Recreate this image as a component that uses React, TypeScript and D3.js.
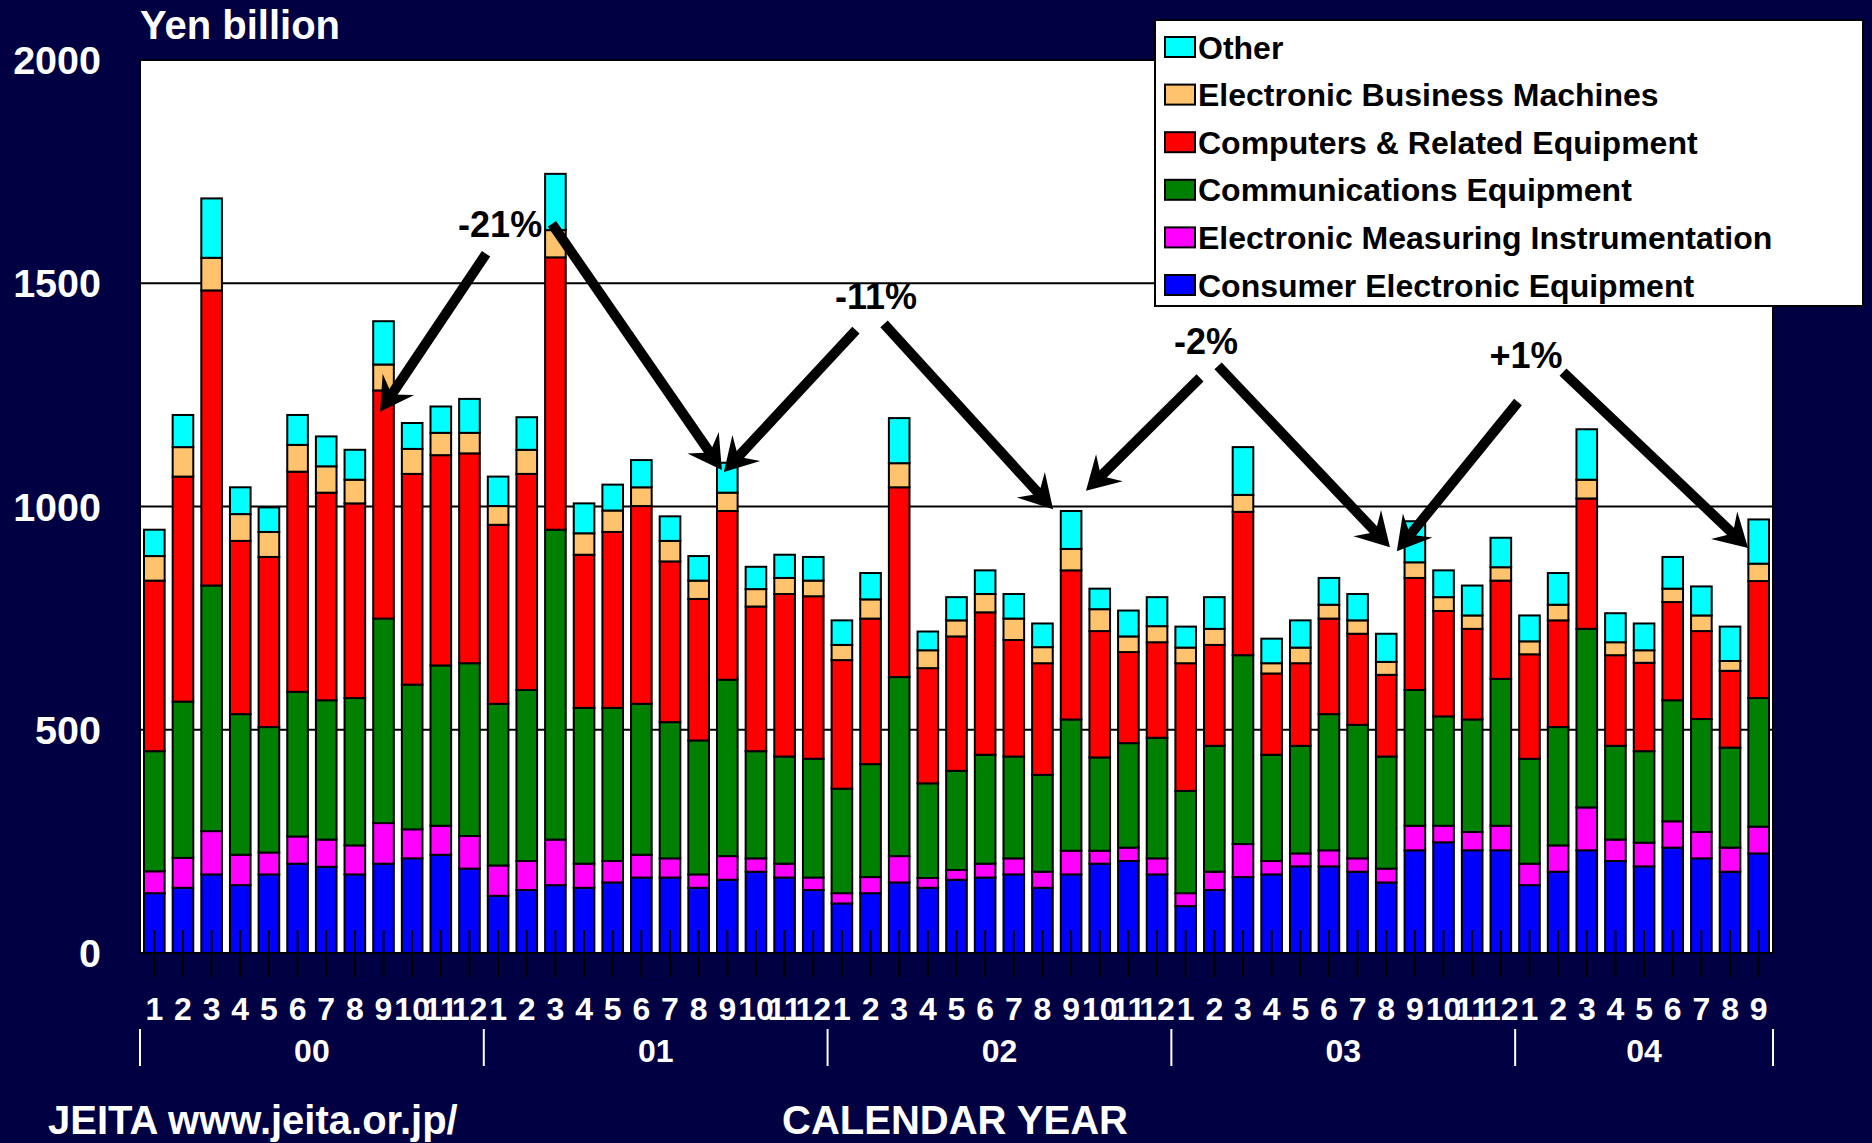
import * as d3 from "d3";

// JEITA monthly production, stacked by product group (Yen billion)

const years = ["00", "01", "02", "03", "04"];
const monthsInYear = [12, 12, 12, 12, 9];

const consumer = [134, 146, 176, 152, 176, 200, 193, 176, 200, 212, 220, 189,
  128, 141, 152, 146, 158, 169, 169, 146, 164, 182, 169, 141,
  111, 134, 158, 146, 164, 169, 176, 146, 176, 200, 206, 176,
  105, 141, 170, 176, 194, 194, 182, 158, 230, 248, 230, 230,
  152, 182, 230, 206, 194, 236, 212, 182, 223];
const measuring = [49, 67, 97, 68, 49, 61, 61, 65, 91, 65, 65, 73,
  68, 65, 102, 54, 48, 51, 43, 30, 53, 30, 31, 28,
  23, 36, 59, 22, 22, 31, 36, 36, 53, 29, 30, 36,
  29, 41, 74, 30, 29, 36, 30, 31, 55, 37, 41, 55,
  48, 59, 96, 48, 53, 59, 59, 54, 60];
const communications = [269, 350, 550, 315, 281, 324, 312, 330, 458, 324, 359, 387,
  362, 383, 694, 349, 343, 338, 305, 300, 395, 240, 240, 266,
  234, 253, 401, 212, 222, 244, 228, 217, 294, 209, 234, 270,
  229, 282, 423, 238, 241, 305, 299, 251, 304, 245, 252, 329,
  235, 265, 400, 210, 205, 271, 253, 224, 288];
const computers = [382, 504, 661, 388, 381, 493, 465, 436, 511, 472, 471, 470,
  401, 484, 610, 343, 394, 443, 360, 317, 378, 324, 364, 364,
  288, 326, 425, 258, 301, 319, 261, 250, 334, 283, 204, 214,
  286, 226, 321, 182, 185, 214, 204, 183, 251, 236, 203, 220,
  234, 239, 292, 203, 198, 220, 197, 172, 262];
const business = [55, 66, 73, 60, 56, 60, 59, 53, 58, 56, 50, 46,
  42, 54, 61, 48, 48, 42, 46, 41, 41, 39, 36, 35,
  34, 43, 54, 40, 36, 41, 48, 36, 48, 49, 35, 36,
  35, 36, 38, 23, 35, 31, 30, 29, 35, 31, 30, 30,
  29, 35, 42, 29, 28, 30, 35, 22, 39];
const other = [59, 72, 133, 60, 55, 67, 67, 67, 97, 58, 59, 76,
  66, 73, 126, 67, 58, 61, 55, 55, 67, 50, 52, 53,
  55, 59, 101, 42, 52, 53, 55, 53, 85, 46, 58, 65,
  47, 71, 107, 55, 61, 60, 59, 63, 92, 60, 67, 66,
  58, 71, 113, 65, 60, 71, 65, 77, 99];

// bottom -> top
const seriesKeys = ["consumer", "measuring", "communications", "computers", "business", "other"];
const seriesNames = ["Consumer Electronic Equipment", "Electronic Measuring Instrumentation",
  "Communications Equipment", "Computers & Related Equipment", "Electronic Business Machines", "Other"];
const seriesColors = ["#0000ff", "#ff00ff", "#008000", "#ff0000", "#ffc36e", "#00ffff"];

const yTicks = [0, 500, 1000, 1500, 2000];

// change annotations: label at (bar position, value), arrows [fromPos, fromVal, toPos, toVal]
const changeLabels = ["-21%", "-11%", "-2%", "+1%"];
const labelAt = [[12.07, 1604], [25.19, 1442], [36.71, 1341], [47.88, 1310]];
const arrows = [
  [11.58, 1566, 7.88, 1212],
  [13.88, 1633, 19.81, 1082],
  [24.49, 1395, 19.88, 1077],
  [25.47, 1409, 31.37, 994],
  [36.5, 1288, 32.52, 1035],
  [37.13, 1315, 43.13, 909],
  [47.6, 1234, 43.37, 900],
  [49.17, 1301, 55.63, 907],
];

const W = 1872, H = 1143;
const NAVY = "#000042";
const FONT = "'Liberation Sans', Arial, sans-serif";

const categories = years.flatMap((yy, k) => d3.range(monthsInYear[k]).map(m => `${yy}-${m + 1}`));
const cols = [consumer, measuring, communications, computers, business, other];
const table = categories.map((c, i) => {
  const row: any = { key: c };
  seriesKeys.forEach((k, j) => (row[k] = cols[j][i]));
  return row;
});
const stacked = d3.stack().keys(seriesKeys)(table);

const plot = { left: 140, right: 1773, top: 60, bottom: 953 };
const x = d3.scaleBand().domain(categories).range([plot.left, plot.right]).paddingInner(0.28).paddingOuter(0.14);
const y = d3.scaleLinear().domain([0, 2000]).range([plot.bottom, plot.top]);
const pos = (t: number) => x(categories[0])! + x.bandwidth() / 2 + t * x.step();

function arrow(a: number[], i: number) {
  const x1 = pos(a[0]), y1 = y(a[1]), x2 = pos(a[2]), y2 = y(a[3]);
  const L = Math.hypot(x2 - x1, y2 - y1);
  const ux = (x2 - x1) / L, uy = (y2 - y1) / L;
  const px = -uy, py = ux;
  const len = 33, half = 19, notch = 21;
  const bx = x2 - ux * len, by = y2 - uy * len;
  const nx = x2 - ux * notch, ny = y2 - uy * notch;
  const pts = [[x2, y2], [bx + px * half, by + py * half], [nx, ny], [bx - px * half, by - py * half]];
  return (
    <g key={i}>
      <line x1={x1} y1={y1} x2={nx} y2={ny} stroke="#000" strokeWidth={10} />
      <polygon points={pts.map(p => p.join(",")).join(" ")} fill="#000" />
    </g>
  );
}

export default function App() {
  let start = 0;
  const groups = years.map((yy, k) => {
    const g = { label: yy, from: start, to: start + monthsInYear[k] - 1 };
    start += monthsInYear[k];
    return g;
  });

  return (
    <svg width={W} height={H} style={{ position: "fixed", left: 0, top: 0 }} fontFamily={FONT} fontWeight="bold">
      <rect width={W} height={H} fill={NAVY} />
      <rect x={plot.left} y={plot.top} width={plot.right - plot.left} height={plot.bottom - plot.top}
        fill="#fff" stroke="#000" strokeWidth={2} />
      {yTicks.slice(1, -1).map(t => (
        <line key={t} x1={plot.left} x2={plot.right} y1={y(t)} y2={y(t)} stroke="#000" strokeWidth={2} />
      ))}

      {stacked.map((s, j) => (
        <g key={s.key} fill={seriesColors[j]} stroke="#000" strokeWidth={2}>
          {s.map((d, i) => (
            <rect key={i} x={x(categories[i])} y={y(d[1])} width={x.bandwidth()} height={y(d[0]) - y(d[1])} />
          ))}
        </g>
      ))}

      {categories.map(c => (
        <line key={c} x1={x(c)! + x.bandwidth() / 2} x2={x(c)! + x.bandwidth() / 2} y1={930} y2={977}
          stroke="#000" strokeWidth={2} />
      ))}

      {yTicks.map(t => (
        <text key={t} x={101} y={y(t)} dy="0.36em" textAnchor="end" fill="#fff" fontSize={39.5}>{t}</text>
      ))}
      <text x={140} y={39} fill="#fff" fontSize={40}>Yen billion</text>

      {categories.map(c => (
        <text key={c} x={x(c)! + x.bandwidth() / 2} y={1020} textAnchor="middle" fill="#fff" fontSize={32}>
          {c.split("-")[1]}
        </text>
      ))}
      {groups.map(g => (
        <g key={g.label}>
          <line x1={pos(g.from - 0.5)} x2={pos(g.from - 0.5)} y1={1029} y2={1066} stroke="#fff" strokeWidth={2} />
          <text x={pos((g.from + g.to) / 2)} y={1062} textAnchor="middle" fill="#fff" fontSize={32}>{g.label}</text>
        </g>
      ))}
      <line x1={pos(categories.length - 0.5)} x2={pos(categories.length - 0.5)} y1={1029} y2={1066}
        stroke="#fff" strokeWidth={2} />

      {arrows.map(arrow)}
      {changeLabels.map((l, i) => (
        <text key={l} x={pos(labelAt[i][0])} y={y(labelAt[i][1])} textAnchor="middle" fill="#000" fontSize={36}>{l}</text>
      ))}

      <g>
        <rect x={1155} y={20} width={708} height={286} fill="#fff" stroke="#000" strokeWidth={2} />
        {seriesNames.slice().reverse().map((n, k) => {
          const j = seriesNames.length - 1 - k;
          const cy = 47 + k * 47.6;
          return (
            <g key={n}>
              <rect x={1165} y={cy - 10} width={30} height={20} fill={seriesColors[j]} stroke="#000" strokeWidth={2} />
              <text x={1198} y={cy} dy="0.36em" fill="#000" fontSize={32}>{n}</text>
            </g>
          );
        })}
      </g>

      <text x={48} y={1134} fill="#fff" fontSize={40}>JEITA www.jeita.or.jp/</text>
      <text x={782} y={1134} fill="#fff" fontSize={40}>CALENDAR YEAR</text>
    </svg>
  );
}
